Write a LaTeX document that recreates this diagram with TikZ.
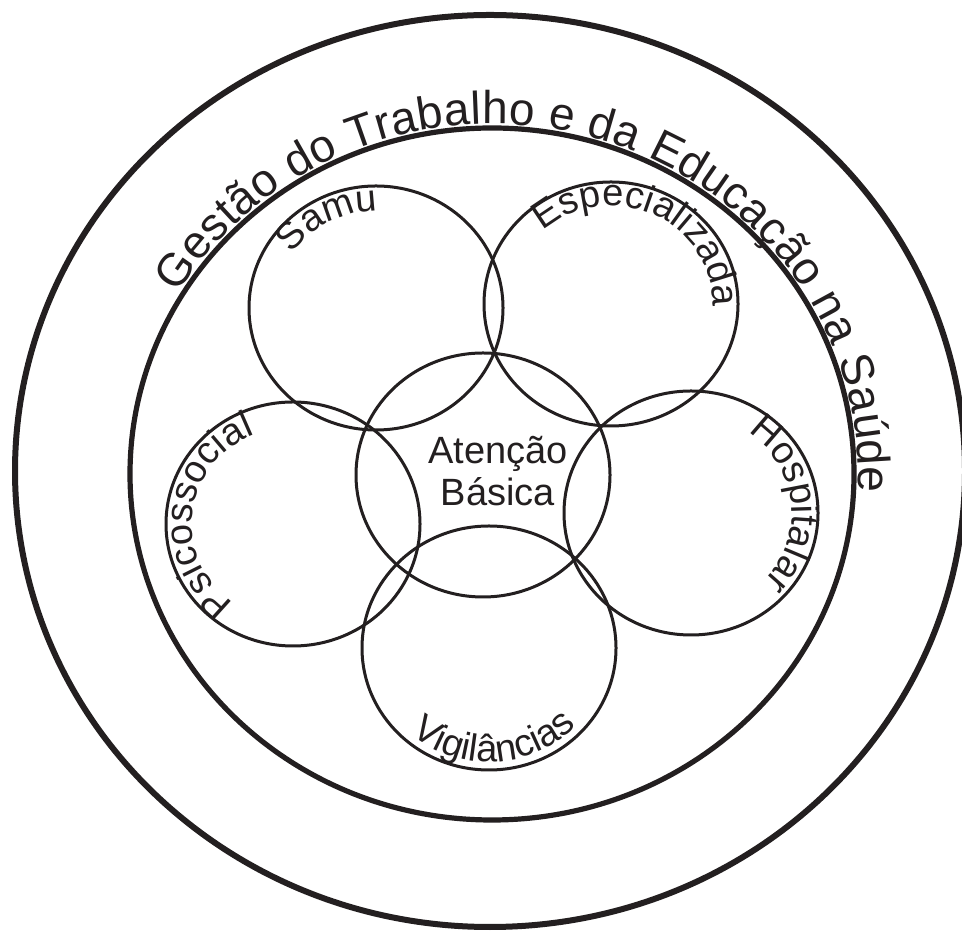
\documentclass[tikz,border=0pt]{standalone}
\usepackage{fontspec}
\setmainfont{Liberation Sans}
\usepackage{tikz}
\usetikzlibrary{decorations.text}
\definecolor{ink}{RGB}{35,31,32}
\newcommand{\ringfont}{\fontsize{23}{26}\selectfont}
\newcommand{\areafont}{\fontsize{19}{21}\selectfont}

\begin{document}
\begin{tikzpicture}[
    x=0.5pt, y=0.5pt,
    ring/.style={draw=ink, line width=3pt},
    area/.style={draw=ink, line width=1.5pt},
    ringtext/.style={decorate, decoration={text along path, text align=fit to path, text color=ink, text={|\ringfont|#1}}},
    areatext/.style={decorate, decoration={text along path, text color=ink, text={|\areafont|#1}}},
    centertext/.style={align=center, font=\areafont, text=ink, inner sep=0pt}
]
\useasboundingbox (0,0) rectangle (962,930);

\coordinate (outer) at (490,459);
\coordinate (inner) at (492,456);
\coordinate (samu) at (376,622);
\coordinate (espec) at (611,626);
\coordinate (atencao) at (483,455);
\coordinate (psico) at (293,406);
\coordinate (hosp) at (691,417);
\coordinate (vigil) at (489,282);

\draw[ring] (outer) ellipse [x radius=475, y radius=456];
\draw[ring, line width=2.6pt] (inner) ellipse [x radius=362, y radius=346];
\foreach \c in {samu,espec,atencao,psico,hosp,vigil}
    \draw[area] (\c) ellipse [x radius=127, y radius=122];

\path[ringtext={Gestão do Trabalho e da Educação na Saúde}, shift={(inner)}]
    (149:366 and 350) arc[start angle=149, end angle=-3, x radius=366, y radius=350];

\path[areatext={Samu}, shift={(samu)}]
    (146:101 and 97) arc[start angle=146, end angle=70, x radius=101, y radius=97];
\path[areatext={Especializada}, shift={(espec)}]
    (132:102 and 98) arc[start angle=132, end angle=-20, x radius=102, y radius=98];
\path[areatext={Psicossocial}, shift={(psico)}]
    (234:101 and 97) arc[start angle=234, end angle=90, x radius=101, y radius=97];
\path[areatext={Hospitalar}, shift={(hosp)}]
    (56:101 and 97) arc[start angle=56, end angle=-60, x radius=101, y radius=97];
\path[areatext={Vigilâncias}, shift={(vigil)}]
    (229:119 and 114) arc[start angle=229, end angle=340, x radius=119, y radius=114];

\node[centertext] (basica) at (498,459) {Atenção\\Básica};

\end{tikzpicture}
\end{document}
